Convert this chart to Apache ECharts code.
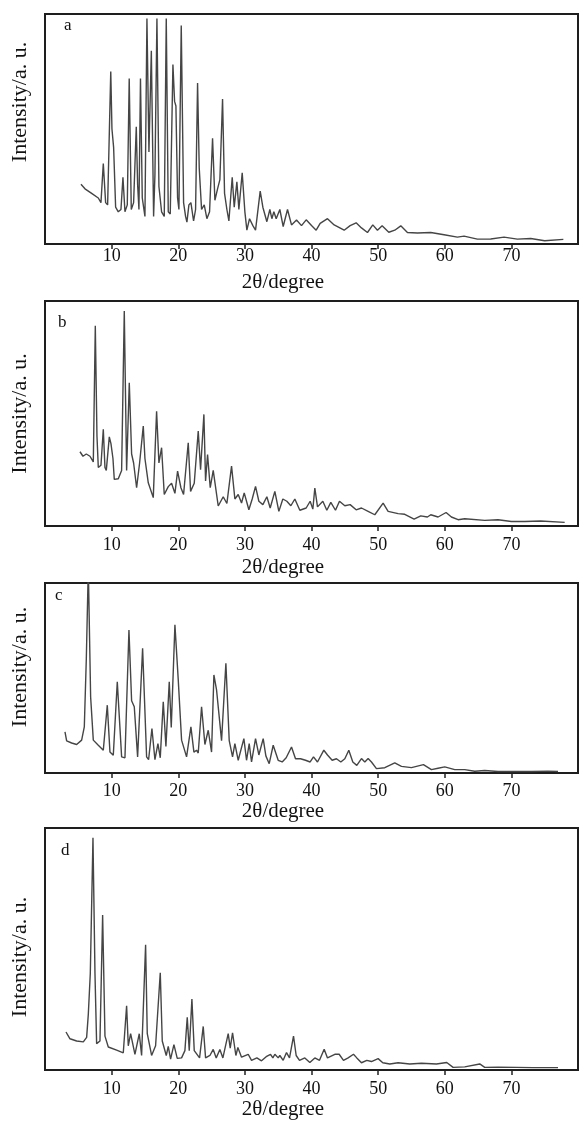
<!DOCTYPE html>
<html>
<head>
<meta charset="utf-8">
<script src="https://cdn.jsdelivr.net/npm/echarts@6/dist/echarts.min.js"></script>
<style>
  html, body { margin: 0; padding: 0; background: #fff; }
  #main { width: 579px; height: 1121px; }
</style>
</head>
<body>
<div id="main"></div>
<script>
// tick labels on every 2θ axis
var tickLabels = [10, 20, 30, 40, 50, 60, 70];
var panelLetters = ['a', 'b', 'c', 'd'];

// [2θ, relative intensity]
var xrdA = [
  [5.4,26],[6,24],[7,22],[8,20],[8.4,18],[8.75,35],[9.1,18],[9.4,17],[9.87,75],[10.05,50],[10.3,42],[10.6,16],
  [11.0,14],[11.4,15],[11.7,29],[12.0,14],[12.35,17],[12.64,72],[12.95,15],[13.3,18],[13.7,51],[13.9,26],
  [14.1,15],[14.33,72],[14.6,20],[15.0,12],[15.3,98],[15.6,40],[15.96,84],[16.3,12],[16.5,30],[16.8,98],
  [17.1,25],[17.5,14],[17.9,12],[18.2,98],[18.5,14],[18.8,13],[19.2,78],[19.45,62],[19.65,60],[19.9,20],
  [20.1,15],[20.45,95],[20.8,18],[21.1,12],[21.3,9.5],[21.6,17],[21.9,18],[22.3,10],[22.6,15],[22.9,70],
  [23.15,33],[23.5,15],[23.9,17],[24.3,11],[24.7,14],[25.15,46],[25.5,19],[25.9,24],[26.25,28],[26.65,63],
  [26.95,22],[27.3,15],[27.6,10],[28.1,29],[28.4,16],[28.8,27],[29.1,15],[29.6,31],[30,14],[30.3,6],[30.7,11],
  [31.2,8],[31.6,6],[32.3,23],[32.7,16],[33.3,9.7],[33.75,15],[34.05,11],[34.35,14],[34.7,11],[35.25,15],
  [35.75,7.6],[36.4,15],[37,8.3],[37.75,10.4],[38.5,8],[39.2,10.5],[40,8],[40.7,6],[41.3,9],[42.4,11],
  [43.4,8.3],[44.9,6],[45.8,8],[46.7,9.2],[47.5,7],[48.4,5],[49.2,8.3],[49.9,6],[50.6,7.9],[51.6,5.1],
  [52.5,6],[53.4,7.9],[54.4,5],[55.9,4.8],[57.9,5],[59.9,4],[61.9,3],[62.9,3.4],[64.9,2.1],[66.9,2.2],
  [68.9,3],[70.9,2.1],[72.9,2.4],[75,1.4],[77.8,2]
];
var xrdB = [
  [5.25,33],[5.7,31],[6.2,32],[6.75,31],[7.25,28.5],[7.55,89],[7.8,40],[8.0,26],[8.4,27],[8.75,43],[9.0,26],
  [9.2,24.7],[9.65,39.6],[9.9,36.6],[10.2,30],[10.4,20.7],[11.0,21],[11.5,24.7],[11.9,95.5],[12.25,24.7],
  [12.65,63.7],[13.0,32],[13.3,28],[13.75,17],[14.2,28],[14.75,44.4],[15.0,30],[15.5,19.2],[16.25,12.6],
  [16.75,51],[17.1,28],[17.5,34.8],[17.9,14],[18.5,17.5],[19.0,19],[19.5,14.5],[19.9,24.4],[20.4,17],
  [20.8,14],[21.5,37],[21.85,15.4],[22.4,19],[23.0,42.2],[23.35,25],[23.85,49.6],[24.1,20],[24.4,31.8],
  [24.8,17],[25.25,24.7],[26.0,8.9],[26.75,13],[27.3,10],[28.0,26.6],[28.5,12],[29.0,14],[29.5,10.2],
  [29.9,14.7],[30.6,7.2],[31.1,12],[31.6,17.6],[32.1,11],[32.7,9.5],[33.3,13],[33.8,8],[34.5,15.4],[35.1,6.5],
  [35.7,12],[36.3,11],[36.9,9],[37.5,12],[38.25,7],[39.2,8],[39.8,11],[40.2,7.5],[40.5,16.9],[40.9,8.5],
  [41.7,11],[42.3,7],[42.9,10.5],[43.6,7],[44.2,11],[45,9],[45.8,9.5],[46.7,7.2],[47.5,8],[48.5,6.5],[49.5,5],
  [50.75,10.2],[51.5,6.5],[53,5.5],[54,5.2],[55.4,3.1],[56.4,4.5],[57.4,4],[57.9,5],[59,4],[60.2,6],[61,4],
  [62,2.8],[63,3.2],[66,2.5],[68,2.8],[70,2],[72,2],[74.4,2.2],[78,1.6]
];
var xrdC = [
  [3.0,21.6],[3.25,16.9],[4.0,15.8],[4.75,15],[5.5,17.3],[5.9,24.3],[6.2,60],[6.5,108],[6.85,40],[7.25,17.3],
  [8.0,14.6],[8.75,12],[9.35,35.7],[9.75,11],[10.25,9.3],[10.85,48],[11.5,8.5],[12.0,8],[12.6,75.3],[13.0,38],
  [13.4,34.9],[13.9,8.5],[14.15,8],[14.65,65.7],[15.25,8.5],[15.55,7],[16.05,23.4],[16.5,7],[16.95,15.5],
  [17.3,8],[17.75,37.5],[18.15,14],[18.65,48],[18.95,24],[19.5,78],[20.0,49],[20.5,17.3],[21.25,8.5],
  [21.9,24.3],[22.35,11],[22.75,12],[23.0,10.5],[23.5,34.9],[24.0,15],[24.5,22.5],[25.0,11],[25.35,51.6],
  [25.75,43.7],[26.25,26],[26.5,17],[27.15,57.8],[27.65,17],[28.15,8.5],[28.5,15.5],[29.0,6.7],[29.85,18.1],
  [30.25,6.7],[30.65,15.5],[31.0,5.8],[31.6,18.1],[32.1,9.5],[32.75,18.1],[33.15,9],[33.65,4.9],[34.25,14.6],
  [35.0,6.7],[35.6,5.8],[36.2,8],[37.0,13.7],[37.6,7.5],[38.35,7.5],[39.1,6.7],[39.8,5.8],[40.3,8.5],
  [40.9,5.8],[41.85,12],[42.4,9.5],[43.1,6.7],[43.75,7.5],[44.4,5.8],[45.0,7.5],[45.6,12],[46.2,5.8],[46.8,4],
  [47.5,7.6],[48,5.8],[48.5,7.6],[49,5.8],[49.75,2.3],[51,2.8],[52.5,5.3],[53.5,3.5],[55,2.8],[56.8,4.4],
  [58,1.8],[59,2.5],[60,3.2],[61.5,1.8],[63,1.8],[64.5,0.9],[66,1.3],[68,0.8],[70.5,0.8],[73,0.8],[75.5,1],[77,0.8]
];
var xrdD = [
  [3.15,15.7],[3.75,12.9],[4.75,12],[5.75,11.6],[6.25,13.5],[6.5,23],[6.8,40],[7.2,96],[7.5,40],[7.75,10.9],
  [8.25,12],[8.65,64],[9.0,14],[9.5,9.5],[10.75,8.2],[11.75,7.1],[12.25,26.5],[12.5,10],[12.85,15],[13.5,6.5],
  [14.15,15],[14.5,6],[15.1,51.7],[15.35,15],[15.5,15],[16.0,6],[16.6,10],[17.3,40.2],[17.6,12],[18.2,6],
  [18.5,9.8],[18.85,4.5],[19.35,10.5],[19.85,4.8],[20.5,5],[21.0,8],[21.35,21.8],[21.65,8],[22.05,29.3],
  [22.4,8],[23.2,5],[23.75,18],[24.1,5],[24.75,6],[25.25,8.5],[25.7,5],[26.25,8.5],[26.7,5],[27.5,15],
  [27.8,9],[28.15,15.4],[28.65,6],[28.95,9.3],[29.5,5.3],[30.5,6.5],[31,4],[31.8,5],[32.5,3.8],[33.2,5.5],
  [33.85,6.5],[34.2,5],[34.5,6.5],[35,5],[35.25,6],[35.75,4],[36.25,7.2],[36.7,5],[37.3,14],[37.7,6],[38.2,4],
  [39,5],[39.75,3.1],[40.5,5],[41.2,4],[41.9,8.6],[42.4,5],[43.5,6.5],[44.15,6.5],[44.8,4],[45.5,5],[46.3,6.5],
  [46.8,5],[47.5,3],[48.3,4],[49,3.5],[50,4.7],[50.7,3],[51.75,2.5],[53,3],[54.75,2.5],[56.5,2.8],[58.75,2.5],
  [60.3,3.1],[61.25,1.1],[63,1.3],[65.25,2.5],[66,1.1],[68,1.2],[70.75,1.1],[73.25,1],[77,1]
];

var panels = [xrdA, xrdB, xrdC, xrdD];
var serif = 'Liberation Serif';

// panel boxes (top, height), label margin, name gap, y-title shift
var boxes = [
  { top: 14, height: 230, margin: 3, gap: 28, pad: [0, 0, 0, 54] },
  { top: 301, height: 225, margin: 10, gap: 31, pad: [0, 0, 0, 0] },
  { top: 583, height: 190, margin: 9, gap: 28, pad: [0, 0, 0, 22] },
  { top: 828, height: 245, margin: 10, gap: 29, pad: [0, 16, 0, 0] }
];
var letterPos = [[64, 17], [58, 314], [55, 587], [61, 842]];

var grids = [], xAxes = [], yAxes = [], series = [], graphics = [];
boxes.forEach(function (b, i) {
  grids.push({
    left: 45, width: 533, top: b.top, height: b.height,
    show: true, borderColor: '#1e1e1e', borderWidth: 2
  });
  xAxes.push({
    gridIndex: i, type: 'value', min: 0, max: 80, interval: 10,
    name: '2θ/degree', nameLocation: 'middle', nameGap: b.gap,
    nameTextStyle: { fontFamily: serif, fontSize: 21, color: '#111', padding: [0, 57, 0, 0] },
    axisLine: { show: false },
    axisTick: { show: true, inside: false, length: 5, customValues: tickLabels,
      lineStyle: { color: '#222', width: 1.5 } },
    axisLabel: { customValues: tickLabels, margin: b.margin,
      fontFamily: serif, fontSize: 18, color: '#111' },
    splitLine: { show: false }
  });
  yAxes.push({
    gridIndex: i, type: 'value', min: 0, max: 100,
    name: 'Intensity/a. u.', nameLocation: 'middle', nameGap: 14, nameRotate: 90,
    nameTextStyle: { fontFamily: serif, fontSize: 22, color: '#111', padding: b.pad },
    axisLine: { show: false }, axisTick: { show: false },
    axisLabel: { show: false }, splitLine: { show: false }
  });
  series.push({
    type: 'line', xAxisIndex: i, yAxisIndex: i, data: panels[i],
    symbol: 'none', clip: true,
    lineStyle: { color: '#454545', width: 1.4 }
  });
  graphics.push({
    type: 'text', left: letterPos[i][0], top: letterPos[i][1],
    style: { text: panelLetters[i], font: '17px "Liberation Serif"', fill: '#111' }
  });
});

var myChart = echarts.init(document.getElementById('main'));
myChart.setOption({
  animation: false,
  backgroundColor: '#fff',
  grid: grids,
  xAxis: xAxes,
  yAxis: yAxes,
  series: series,
  graphic: graphics
});
</script>
</body>
</html>
